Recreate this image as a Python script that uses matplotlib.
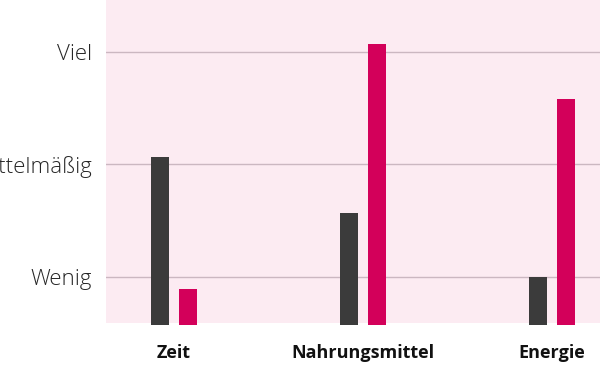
import numpy as np
import matplotlib
matplotlib.use("Agg")
import matplotlib.pyplot as plt

# data (levels: 1 = Wenig, 2 = Mittelmäßig, 3 = Viel)
categories = ["Zeit", "Nahrungsmittel", "Energie"]
series_dark = [2.07, 1.57, 1.00]
series_pink = [0.89, 3.07, 2.58]
level_ticks = [1, 2, 3]
level_labels = ["Wenig", "Mittelmäßig", "Viel"]

plt.rcParams['font.family'] = ['Open Sans', 'DejaVu Sans']

fig = plt.figure(figsize=(6.0, 3.66), dpi=100)
ax = fig.add_axes([106/600, 43/366, 494/600, 323/366])
ax.set_facecolor('#fcebf2')

x = np.arange(len(categories))
w = 0.095
off = 0.074
ymin, ymax = 0.59, 3.462
base = ymin - 0.02

ax.bar(x - off, np.array(series_dark) - base, w, bottom=base, color='#3b3b3b', clip_on=False, zorder=3)
ax.bar(x + off, np.array(series_pink) - base, w, bottom=base, color='#d3005a', clip_on=False, zorder=3)

ax.set_xlim(-0.36, 2.254)
ax.set_ylim(ymin, ymax)

ax.set_yticks(level_ticks)
ax.set_yticklabels(level_labels, fontsize=16, color='#262626', fontweight='light')
ax.set_xticks(x)
ax.set_xticklabels(categories, fontsize=13, fontweight='bold', color='#111111')

ax.tick_params(axis='y', length=0, pad=10)
ax.tick_params(axis='x', length=0, pad=15)
ax.yaxis.grid(True, color='#cbb7c1', linewidth=1)
ax.set_axisbelow(True)
for s in ax.spines.values():
    s.set_visible(False)

fig.savefig('out.png', dpi=100)
